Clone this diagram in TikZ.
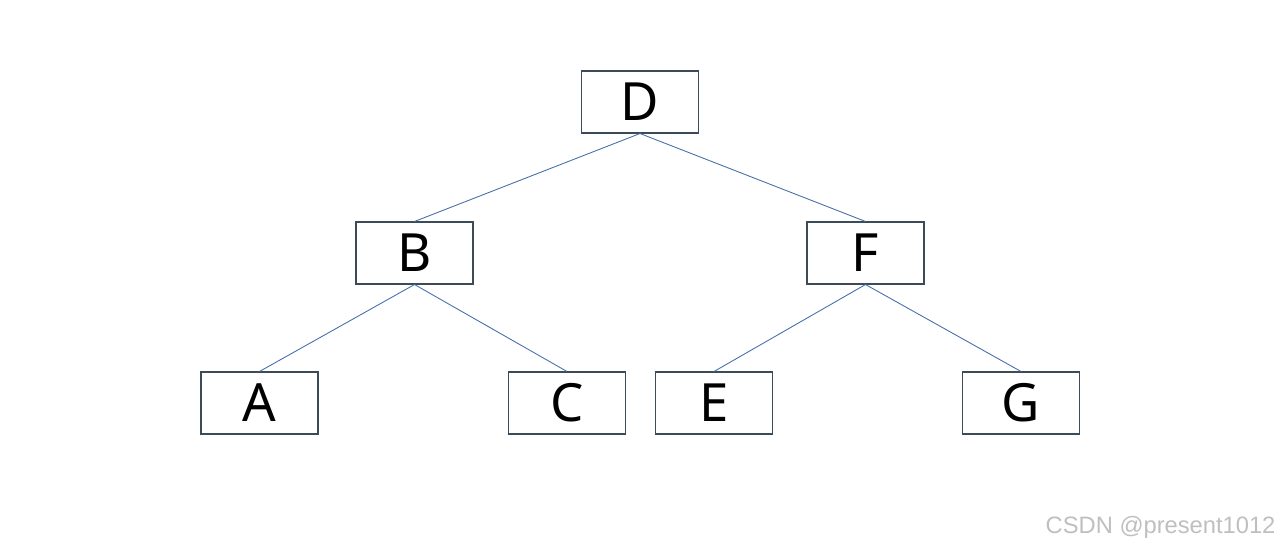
\documentclass[tikz,border=0pt]{standalone}
\usepackage{fontspec}
\setmainfont{Noto Sans}
\newfontfamily\markfont{Liberation Sans}
\usetikzlibrary{positioning}
\definecolor{boxline}{RGB}{60,75,90}
\definecolor{edgeblue}{RGB}{70,110,170}
\tikzstyle{treenode}=[rectangle, draw=boxline, line width=0.6pt, inner sep=0pt, minimum width=2.34cm, minimum height=1.24cm, fill=white, font=\fontsize{30}{30}\selectfont]
\tikzstyle{treeedge}=[draw=edgeblue, line width=0.5pt]

\begin{document}
\begin{tikzpicture}[x=0.02cm, y=-0.02cm]
\useasboundingbox (0,0) rectangle (1280,547);
\tikzstyle{every node}=[treenode];
\node (D) at (640,102){D};
\node (B) at (414.5,253){B}; \node (F) at (865.5,253){F};
\node (A) at (259.5,403){A}; \node (C) at (567,403){C};
\node (E) at (714,403){E}; \node (G) at (1021,403){G};
\draw [treeedge] (D.south) -- (B.north) (D.south) -- (F.north);
\draw [treeedge] (B.south) -- (A.north) (B.south) -- (C.north);
\draw [treeedge] (F.south) -- (E.north) (F.south) -- (G.north);
\node [draw=none, fill=none, minimum width=0pt, minimum height=0pt, anchor=base east, text=black!25, font=\markfont\fontsize{13.5}{13.5}\selectfont] (mark) at (1276,533) {CSDN @present1012};
\end{tikzpicture}
\end{document}
